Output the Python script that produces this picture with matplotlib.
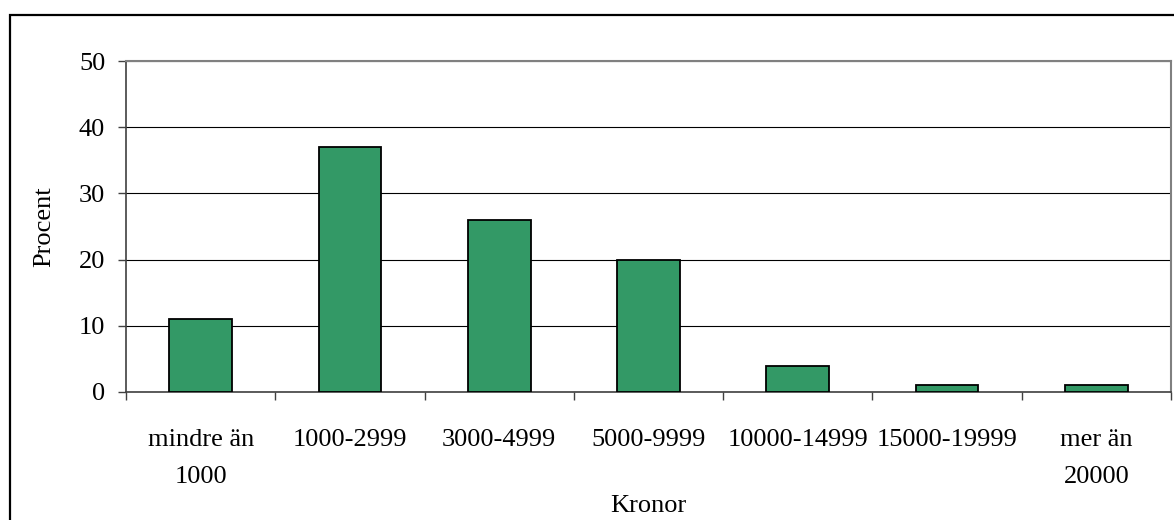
import matplotlib
matplotlib.use("Agg")
import matplotlib.pyplot as plt
from matplotlib.patches import Rectangle
import numpy as np

categories = ["mindre än\n1000", "1000-2999", "3000-4999", "5000-9999",
              "10000-14999", "15000-19999", "mer än\n20000"]
values = [11, 37, 26, 20, 4, 1, 1]
yticks = [0, 10, 20, 30, 40, 50]

plt.rcParams['font.family'] = ['Liberation Serif', 'DejaVu Serif']

fig = plt.figure(figsize=(11.74, 5.2), dpi=100)
ax = fig.add_axes([126/1174, 1-392/520, (1171-126)/1174, (392-61)/520])

x = np.arange(len(categories))
ax.bar(x, values, width=0.42, color="#339966", edgecolor="black", linewidth=1.3, zorder=3)

ax.set_xlim(-0.5, len(categories) - 0.5)
ax.set_ylim(0, 50)
ax.set_yticks(yticks)
ax.set_yticklabels([str(v) for v in yticks])
ax.yaxis.grid(True, color="black", linewidth=0.8, zorder=0)
ax.set_axisbelow(True)

ax.set_xticks(x)
ax.set_xticklabels(categories, linespacing=1.85)
ax.set_xticks(np.arange(len(categories) + 1) - 0.5, minor=True)
ax.tick_params(axis='x', which='major', length=0, pad=27, labelsize=19)
ax.tick_params(axis='x', which='minor', length=6, width=1, color="#404040", direction='out')
ax.tick_params(axis='y', length=6, width=1, color="#404040", pad=9, labelsize=19)

for s in ['top', 'right']:
    ax.spines[s].set_color("#808080")
    ax.spines[s].set_linewidth(1.5)
ax.spines['left'].set_color("#404040")
ax.spines['bottom'].set_color("#404040")
ax.spines['left'].set_linewidth(1.2)
ax.spines['bottom'].set_linewidth(1.2)

ax.set_xlabel("Kronor", fontsize=19, labelpad=5)
ax.set_ylabel("Procent", fontsize=19, labelpad=17)

# outer chart border
fig.patches.append(Rectangle((10/1174, -0.1), 1.2, 1 - 15/520 + 0.1,
                             transform=fig.transFigure, fill=False,
                             edgecolor="black", linewidth=1.6, clip_on=False))

fig.savefig("out.png", dpi=100)
